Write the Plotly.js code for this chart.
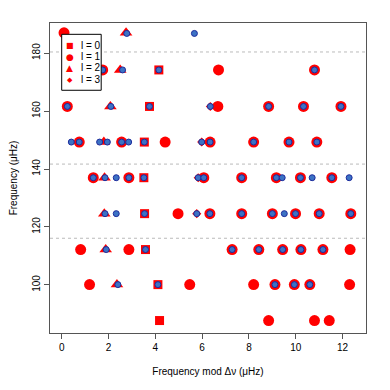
<!DOCTYPE html>
<html>
<head>
<meta charset="utf-8">
<script src="https://cdn.plot.ly/plotly-3.0.1.min.js"></script>
<style>
  html, body { margin: 0; padding: 0; background: #fff; }
  #chart { width: 390px; height: 390px; }
</style>
</head>
<body>
<div id="chart"></div>
<script>
// model modes, l = 0 (squares)
var l0X = [4.15, 3.75, 3.53, 3.51, 3.54, 3.58, 4.11, 4.18];
var l0Y = [174.2, 161.6, 149.3, 137.0, 124.6, 112.2, 100.1, 87.7];

// l = 1 (circles)
var l1X = [0.1,
    1.75, 6.7, 10.8,
    0.24, 6.67, 8.84, 10.33, 11.93,
    0.75, 2.56, 4.42, 6.34, 8.2, 9.71, 10.9,
    1.35, 2.87, 6.07, 7.69, 9.17, 10.2, 11.54,
    4.97, 6.33, 7.69, 9.0, 9.99, 11.0, 12.35,
    0.81, 2.87, 7.28, 8.42, 9.44, 10.22, 11.16, 12.32,
    1.19, 5.47, 8.2, 9.11, 9.94, 10.6, 12.3,
    8.84, 10.8, 11.43];
var l1Y = [187.0,
    174.2, 174.2, 174.2,
    161.6, 161.6, 161.6, 161.6, 161.6,
    149.3, 149.3, 149.3, 149.3, 149.3, 149.3, 149.3,
    137.0, 137.0, 137.0, 137.0, 137.0, 137.0, 137.0,
    124.6, 124.6, 124.6, 124.6, 124.6, 124.6, 124.6,
    112.2, 112.2, 112.2, 112.2, 112.2, 112.2, 112.2, 112.2,
    100.1, 100.1, 100.1, 100.1, 100.1, 100.1, 100.1,
    87.7, 87.7, 87.7];

// l = 2 (triangles)
var l2X = [2.75, 2.5, 2.08, 1.8, 1.83, 1.82, 1.88, 2.36];
var l2Y = [187.0, 174.2, 161.6, 149.3, 137.0, 124.6, 112.2, 100.1];

// l = 3 (diamonds)
var l3X = [6.35, 5.98, 5.83, 5.77];
var l3Y = [161.6, 149.3, 137.0, 124.6];

// observed frequencies (blue)
var obsX = [2.78, 5.67,
    1.75, 2.6, 4.15, 10.8,
    0.24, 2.1, 3.75, 6.35, 8.84, 10.33, 11.93,
    0.41, 0.75, 1.62, 1.95, 2.56, 2.86, 3.53, 5.98, 6.34, 8.2, 9.71, 10.9,
    1.35, 1.85, 2.33, 2.87, 3.51, 5.83, 6.07, 7.69, 9.17, 9.42, 10.2, 10.7, 11.54, 12.28,
    1.85, 2.33, 3.54, 5.77, 6.33, 7.69, 9.0, 9.51, 9.99, 11.0, 12.35,
    1.9, 3.58, 7.28, 8.42, 9.44, 10.22, 11.16,
    2.4, 4.11, 9.11, 9.94, 10.6];
var obsY = [186.8, 186.8,
    174.2, 174.2, 174.2, 174.2,
    161.6, 161.6, 161.6, 161.6, 161.6, 161.6, 161.6,
    149.3, 149.3, 149.3, 149.3, 149.3, 149.3, 149.3, 149.3, 149.3, 149.3, 149.3, 149.3,
    137.0, 137.0, 137.0, 137.0, 137.0, 137.0, 137.0, 137.0, 137.0, 137.0, 137.0, 137.0, 137.0, 137.0,
    124.6, 124.6, 124.6, 124.6, 124.6, 124.6, 124.6, 124.6, 124.6, 124.6, 124.6,
    112.2, 112.2, 112.2, 112.2, 112.2, 112.2, 112.2,
    100.1, 100.1, 100.1, 100.1, 100.1];

// dashed reference lines
var dashY = [116.1, 141.7, 180.4];

var xTicks = [0, 2, 4, 6, 8, 10, 12];
var yTicks = [100, 120, 140, 160, 180];

// legend entries (drawn as a small boxed key, like the R legend)
var legendLabels = ['l = 0', 'l = 1', 'l = 2', 'l = 3'];
var legendGlyphs = ['\u25A0', '\u25CF', '\u25B2', '\u25C6'];
var legendGlyphSize = [8, 9, 9, 7];

var red = '#FF0000';

var traces = [
    {type: 'scatter', mode: 'markers', name: 'l = 0', x: l0X, y: l0Y,
     marker: {symbol: 'square', size: 9, color: red}},
    {type: 'scatter', mode: 'markers', name: 'l = 1', x: l1X, y: l1Y,
     marker: {symbol: 'circle', size: 11, color: red}},
    {type: 'scatter', mode: 'markers', name: 'l = 2', x: l2X, y: l2Y,
     marker: {symbol: 'triangle-up', size: 11, color: red}},
    {type: 'scatter', mode: 'markers', name: 'l = 3', x: l3X, y: l3Y,
     marker: {symbol: 'diamond', size: 7, color: red}},
    {type: 'scatter', mode: 'markers', name: 'obs', x: obsX, y: obsY,
     marker: {symbol: 'circle', size: 6, color: '#3C72C4', line: {color: '#1C2B9C', width: 1}}}
];

var shapes = dashY.map(function (v) {
    return {type: 'line', xref: 'paper', x0: 0, x1: 1, yref: 'y', y0: v, y1: v,
            line: {color: '#BBBBBB', width: 1, dash: '3px,3px'}, layer: 'below'};
});
// legend box
shapes.push({type: 'rect', xref: 'paper', yref: 'paper', x0: 0.037, x1: 0.162, y0: 0.783, y1: 0.9635,
             fillcolor: '#fff', line: {color: '#000', width: 1}, layer: 'above'});

var rowY = [0.927, 0.891, 0.855, 0.817];
var annotations = [];
legendLabels.forEach(function (lab, i) {
    annotations.push({xref: 'paper', yref: 'paper', x: 0.062, y: rowY[i], xanchor: 'center', yanchor: 'middle',
                      text: legendGlyphs[i], showarrow: false,
                      font: {family: 'DejaVu Sans', size: legendGlyphSize[i], color: red}});
    annotations.push({xref: 'paper', yref: 'paper', x: 0.092, y: rowY[i], xanchor: 'left', yanchor: 'middle',
                      text: lab, showarrow: false, font: {size: 10, color: '#000'}});
});

var layout = {
    width: 390,
    height: 390,
    margin: {l: 50, r: 24, t: 23, b: 57},
    paper_bgcolor: '#fff',
    plot_bgcolor: '#fff',
    font: {family: 'Liberation Sans, Arial, sans-serif', size: 10, color: '#000'},
    showlegend: false,
    xaxis: {
        range: [-0.5, 13.0], tickvals: xTicks, ticks: 'outside', ticklen: 5,
        tickcolor: '#555', showline: true, mirror: true, linecolor: '#555', linewidth: 1,
        showgrid: false, zeroline: false,
        title: {text: 'Frequency mod \u0394\u03bd (\u03bcHz)', font: {size: 10}, standoff: 15}
    },
    yaxis: {
        range: [83.4, 190.4], tickvals: yTicks, ticks: 'outside', ticklen: 5, tickangle: -90,
        tickcolor: '#555', showline: true, mirror: true, linecolor: '#555', linewidth: 1,
        showgrid: false, zeroline: false,
        title: {text: 'Frequency (\u03bcHz)', font: {size: 10}, standoff: 11}
    },
    shapes: shapes,
    annotations: annotations
};

Plotly.newPlot('chart', traces, layout, {displayModeBar: false, staticPlot: true});
</script>
</body>
</html>
